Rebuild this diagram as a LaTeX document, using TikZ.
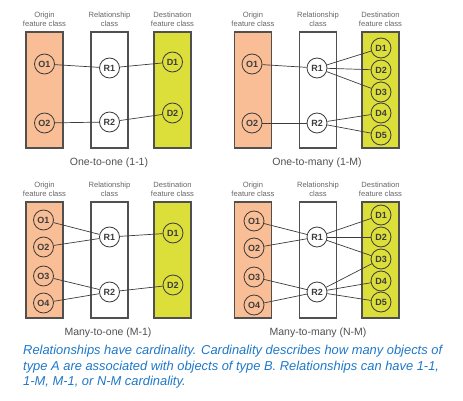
\documentclass[tikz,border=0pt]{standalone}
\usepackage{fontspec}
\setmainfont{Liberation Sans}
\usetikzlibrary{positioning}

\definecolor{originfill}{RGB}{249,190,150}
\definecolor{destfill}{RGB}{220,222,58}
\definecolor{boxgray}{RGB}{80,80,80}
\definecolor{linegray}{RGB}{60,60,60}
\definecolor{notetext}{RGB}{30,120,200}

\tikzset{
    classbox/.style = {draw=boxgray, line width=1.3pt, minimum width=37pt, minimum height=116pt, inner sep=0pt},
    item/.style = {circle, draw=linegray, line width=0.8pt, minimum size=20pt, inner sep=0pt, font=\bfseries\fontsize{9}{9}\selectfont, text=linegray},
    header/.style = {align=center, text=black!60, font=\fontsize{7.6}{9}\selectfont},
    caption/.style = {text=linegray!90, font=\fontsize{10.5}{12}\selectfont},
    link/.style = {draw=linegray, line width=0.7pt}
}

\begin{document}
\begin{tikzpicture}[x=1pt,y=-1pt]

            % \draw [help lines] (0,0) grid (463,401);
            \useasboundingbox (0,0) rectangle (463,401);

            % one-to-one
            \path   (44.5,90) node (abo) [classbox,fill = originfill] {}
                    (109.5,90) node (abr) [classbox,fill = white] {}
                    (172.5,90) node (abd) [classbox,fill = destfill] {}
                    (44.5,64) node (ao1) [item] {O1}
                    (44.5,123) node (ao2) [item] {O2}
                    (109.5,68) node (ar1) [item,fill = white] {R1}
                    (109.5,122) node (ar2) [item,fill = white] {R2}
                    (172.5,62) node (ad1) [item] {D1}
                    (172.5,113) node (ad2) [item] {D2};

            \draw[link] (ao1) -- (ar1);
            \draw[link] (ar1) -- (ad1);
            \draw[link] (ao2) -- (ar2);
            \draw[link] (ar2) -- (ad2);

            % one-to-many
            \path   (253,90) node (bbo) [classbox,fill = originfill] {}
                    (318,90) node (bbr) [classbox,fill = white] {}
                    (380.5,90) node (bbd) [classbox,fill = destfill] {}
                    (252,64) node (bo1) [item] {O1}
                    (252,123) node (bo2) [item] {O2}
                    (317,68) node (br1) [item,fill = white] {R1}
                    (317,123) node (br2) [item,fill = white] {R2}
                    (381,48) node (bd1) [item] {D1}
                    (381,70) node (bd2) [item] {D2}
                    (381,92) node (bd3) [item] {D3}
                    (381,113) node (bd4) [item] {D4}
                    (381,135) node (bd5) [item] {D5};

            \draw[link] (bo1) -- (br1);
            \draw[link] (br1) -- (bd1);
            \draw[link] (br1) -- (bd2);
            \draw[link] (br1) -- (bd3);
            \draw[link] (bo2) -- (br2);
            \draw[link] (br2) -- (bd4);
            \draw[link] (br2) -- (bd5);

            % many-to-one
            \path   (44.5,260) node (cbo) [classbox,fill = originfill] {}
                    (109.5,260) node (cbr) [classbox,fill = white] {}
                    (172.5,260) node (cbd) [classbox,fill = destfill] {}
                    (43.5,220) node (co1) [item] {O1}
                    (43.5,247) node (co2) [item] {O2}
                    (43.5,276) node (co3) [item] {O3}
                    (43.5,303) node (co4) [item] {O4}
                    (109.5,237) node (cr1) [item,fill = white] {R1}
                    (109.5,292) node (cr2) [item,fill = white] {R2}
                    (173,233) node (cd1) [item] {D1}
                    (173,285) node (cd2) [item] {D2};

            \draw[link] (co1) -- (cr1);
            \draw[link] (co2) -- (cr1);
            \draw[link] (cr1) -- (cd1);
            \draw[link] (co3) -- (cr2);
            \draw[link] (co4) -- (cr2);
            \draw[link] (cr2) -- (cd2);

            % many-to-many
            \path   (253,260) node (dbo) [classbox,fill = originfill] {}
                    (318,260) node (dbr) [classbox,fill = white] {}
                    (380.5,260) node (dbd) [classbox,fill = destfill] {}
                    (254,221) node (do1) [item] {O1}
                    (254,248) node (do2) [item] {O2}
                    (254,277) node (do3) [item] {O3}
                    (254,305) node (do4) [item] {O4}
                    (317,237) node (dr1) [item,fill = white] {R1}
                    (317,292) node (dr2) [item,fill = white] {R2}
                    (381,215) node (dd1) [item] {D1}
                    (381,237) node (dd2) [item] {D2}
                    (381,259) node (dd3) [item] {D3}
                    (381,281) node (dd4) [item] {D4}
                    (381,302) node (dd5) [item] {D5};

            \draw[link] (do1) -- (dr1);
            \draw[link] (do2) -- (dr1);
            \draw[link] (dr1) -- (dd1);
            \draw[link] (dr1) -- (dd2);
            \draw[link] (dr1) -- (dd3);
            \draw[link] (do3) -- (dr2);
            \draw[link] (do4) -- (dr2);
            \draw[link] (dr2) -- (dd3);
            \draw[link] (dr2) -- (dd4);
            \draw[link] (dr2) -- (dd5);

            % headers
            \node [header,above=1pt of abo] (aho) {Origin\\feature class};
            \node [header,above=1pt of abr] (ahr) {Relationship\\class};
            \node [header,above=1pt of abd] (ahd) {Destination\\feature class};
            \node [header,above=1pt of bbo] (bho) {Origin\\feature class};
            \node [header,above=1pt of bbr] (bhr) {Relationship\\class};
            \node [header,above=1pt of bbd] (bhd) {Destination\\feature class};
            \node [header,above=1pt of cbo] (cho) {Origin\\feature class};
            \node [header,above=1pt of cbr] (chr) {Relationship\\class};
            \node [header,above=1pt of cbd] (chd) {Destination\\feature class};
            \node [header,above=1pt of dbo] (dho) {Origin\\feature class};
            \node [header,above=1pt of dbr] (dhr) {Relationship\\class};
            \node [header,above=1pt of dbd] (dhd) {Destination\\feature class};

            % captions
            \node [caption] (acap) at (109,163) {One-to-one (1-1)};
            \node [caption] (bcap) at (317,163) {One-to-many (1-M)};
            \node [caption] (ccap) at (108,333) {Many-to-one (M-1)};
            \node [caption] (dcap) at (318,333) {Many-to-many (N-M)};

            \node [anchor=north west,align=left,inner sep=0pt,text=notetext,
                   font=\itshape\fontsize{12.9}{15.5}\selectfont] (note) at (23,345)
            {
            Relationships have cardinality. Cardinality describes how many objects of\\
            type A are associated with objects of type B. Relationships can have 1-1,\\
            1-M, M-1, or N-M cardinality.
            };

        \end{tikzpicture}
\end{document}
